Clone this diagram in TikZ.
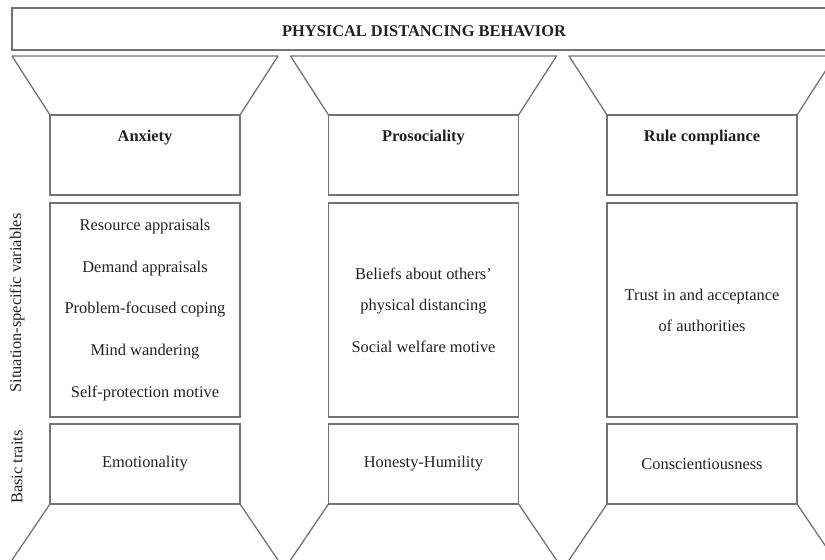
\documentclass[tikz,border=0pt]{standalone}
\usepackage{fontspec}
\setmainfont{Liberation Serif}
\usetikzlibrary{positioning}
\definecolor{lgray}{rgb}{0.45, 0.45, 0.45}
\definecolor{tgray}{rgb}{0.13, 0.13, 0.13}
\tikzset{box/.style = {draw = lgray, line width = 1.1pt, inner sep = 0, outer sep = 0,
                       minimum width = 5.7cm}}
\tikzset{edge/.style = {draw = lgray, line width = 1.1pt, line join = round}}
\tikzset{head/.style = {text = tgray, inner sep = 0, font = \fontsize{14}{17}\selectfont\bfseries}}
\tikzset{vars/.style = {text = tgray, inner sep = 0, align = center,
                        font = \fontsize{14}{26.4}\selectfont}}
\tikzset{side/.style = {text = tgray, inner sep = 0, rotate = 90,
                        font = \fontsize{14}{17}\selectfont}}

\begin{document}
\begin{tikzpicture}[x = 0.03cm, y = -0.03cm]
      \useasboundingbox (0, 0) rectangle (825, 559);
      \clip (0, 0) rectangle (825, 559);

      \node [box, minimum width = 24.72cm, minimum height = 1.26cm] (top) at (424, 29) {};
      \node [head] (title) at (424, 31) {PHYSICAL DISTANCING BEHAVIOR};

      \node [box, minimum height = 2.4cm] (anx) at (145, 155) {};
      \node [box, minimum height = 2.4cm] (pro) at (423.5, 155) {};
      \node [box, minimum height = 2.4cm] (rule) at (702, 155) {};

      \node [head, below = 0.45cm of anx.north] (anxhead) {Anxiety};
      \node [head, below = 0.45cm of pro.north] (prohead) {Prosociality};
      \node [head, below = 0.45cm of rule.north] (rulehead) {Rule compliance};

      \draw [edge] (anx.north west) -- ++(-38, -59) -- ++(266, 0) -- (anx.north east);
      \draw [edge] (pro.north west) -- ++(-38, -59) -- ++(266, 0) -- (pro.north east);
      \draw [edge] (rule.north west) -- ++(-38, -59) -- ++(266, 0) -- (rule.north east);

      \node [box, minimum height = 6.42cm] (anxvar) at (145, 310) {};
      \node [box, minimum height = 6.42cm] (provar) at (423.5, 310) {};
      \node [box, minimum height = 6.42cm] (rulevar) at (702, 310) {};

      \node [vars] (anxlist) at (anxvar) {Resource appraisals\\[9.4pt] Demand appraisals\\[9.4pt]
        Problem-focused coping\\[9.4pt] Mind wandering\\[9.4pt] Self-protection motive};
      \node [vars] (prolist) at (provar) {Beliefs about others'\\ physical distancing\\[9.4pt]
        Social welfare motive};
      \node [vars] (rulelist) at (rulevar) {Trust in and acceptance\\ of authorities};

      \node [box, minimum height = 2.4cm] (anxtrait) at (145, 464) {};
      \node [box, minimum height = 2.4cm] (protrait) at (423.5, 464) {};
      \node [box, minimum height = 2.4cm] (ruletrait) at (702, 464) {};

      \node [vars] (anxname) at (anxtrait) {Emotionality};
      \node [vars] (proname) at (protrait) {Honesty-Humility};
      \node [vars] (rulename) at (ruletrait) {Conscientiousness};

      \draw [edge] (anxtrait.south west) -- ++(-40, 59);
      \draw [edge] (anxtrait.south east) -- ++(40, 59);
      \draw [edge] (protrait.south west) -- ++(-40, 59);
      \draw [edge] (protrait.south east) -- ++(40, 59);
      \draw [edge] (ruletrait.south west) -- ++(-40, 59);
      \draw [edge] (ruletrait.south east) -- ++(40, 59);

      \node [side] (sitlabel) at (17, 303) {Situation-specific variables};
      \node [side] (traitlabel) at (17, 467) {Basic traits};
    \end{tikzpicture}
\end{document}
